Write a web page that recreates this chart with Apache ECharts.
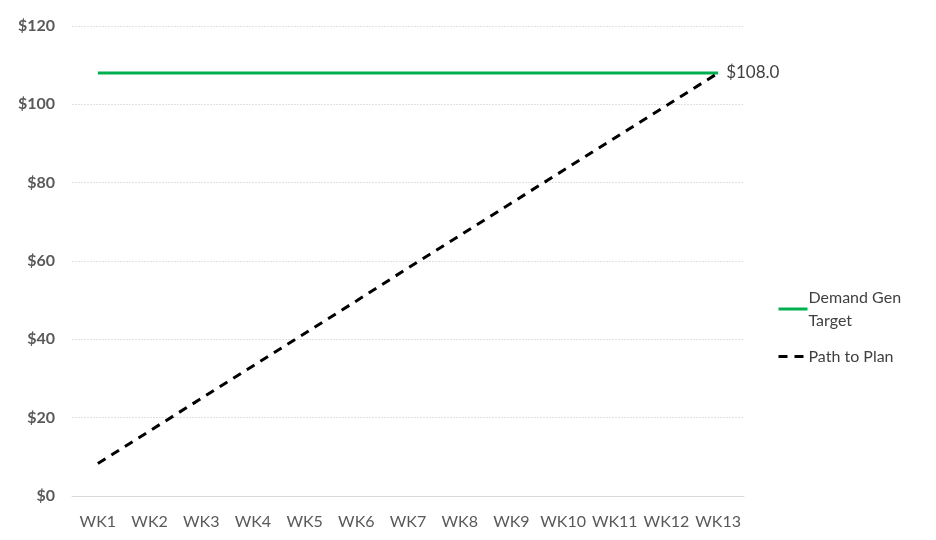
<!DOCTYPE html>
<html>
<head>
<meta charset="utf-8">
<script src="https://cdn.jsdelivr.net/npm/echarts@6/dist/echarts.min.js"></script>
<style>html,body{margin:0;padding:0;background:#fff}#c{width:936px;height:540px}</style>
</head>
<body>
<div id="c"></div>
<script>
var categories = ['WK1','WK2','WK3','WK4','WK5','WK6','WK7','WK8','WK9','WK10','WK11','WK12','WK13'];
var targetValues = [108,108,108,108,108,108,108,108,108,108,108,108,108];
var pathValues = [8.3,16.6,24.9,33.2,41.5,49.8,58.2,66.5,74.8,83.1,91.4,99.7,108.0];
var yTicks = [0,20,40,60,80,100,120];

var chart = echarts.init(document.getElementById('c'));
chart.setOption({
  animation: false,
  backgroundColor: '#fff',
  grid: {left: 72, right: 192, top: 26, bottom: 44},
  legend: {
    orient: 'vertical',
    left: 772,
    top: 281,
    itemWidth: 29,
    itemHeight: 14,
    itemGap: 13,
    itemStyle: {opacity: 0},
    lineStyle: {width: 3},
    textStyle: {fontFamily: 'Lato', fontSize: 16, color: '#404040', lineHeight: 23, padding: [0, 0, 0, -4]},
    formatter: function(n){ return n === 'Demand Gen Target' ? 'Demand Gen\nTarget' : n; },
    data: ['Demand Gen Target', 'Path to Plan']
  },
  xAxis: {
    type: 'category',
    data: categories,
    boundaryGap: true,
    axisLine: {lineStyle: {color: '#d9d9d9', width: 1}},
    axisTick: {show: false},
    axisLabel: {fontFamily: 'Lato', fontSize: 16, color: '#595959', margin: 18, interval: 0}
  },
  yAxis: {
    type: 'value',
    min: yTicks[0],
    max: yTicks[yTicks.length-1],
    interval: 20,
    axisLine: {show: false},
    axisTick: {show: false},
    splitLine: {lineStyle: {color: '#e0e0e0', type: [2, 1], width: 1}},
    axisLabel: {fontFamily: 'Lato', fontWeight: 'bold', fontSize: 16, color: '#595959', margin: 17,
      formatter: function(v){ return '$' + v; }}
  },
  series: [
    {
      name: 'Demand Gen Target',
      type: 'line',
      data: targetValues,
      symbol: 'none',
      lineStyle: {color: '#00b050', width: 3},
      itemStyle: {color: '#00b050'}
    },
    {
      name: 'Path to Plan',
      type: 'line',
      data: pathValues,
      symbol: 'none',
      lineStyle: {color: '#000', width: 3, type: [9, 7]},
      itemStyle: {color: '#000'},
      endLabel: {
        show: true,
        distance: 8,
        fontFamily: 'Lato',
        fontSize: 17,
        color: '#404040',
        formatter: function(p){ return '$' + p.value.toFixed(1); }
      }
    }
  ]
});
</script>
</body>
</html>
